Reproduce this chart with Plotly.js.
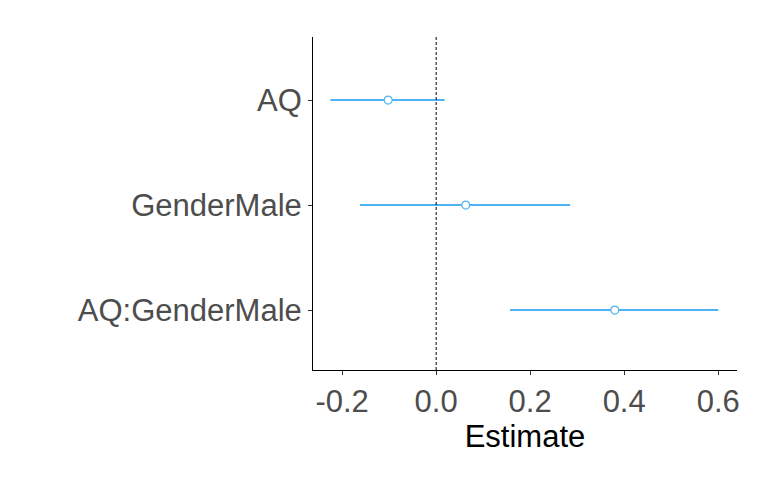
<!DOCTYPE html>
<html>
<head>
<script src="https://cdn.plot.ly/plotly-3.0.1.min.js"></script>
</head>
<body style="margin:0">
<div id="chart" style="width:776px;height:484px"></div>
<script>
var terms = ["AQ", "GenderMale", "AQ:GenderMale"];
var termPos = [3, 2, 1];
var estimates = [-0.102, 0.063, 0.380];
var ciLow = [-0.225, -0.162, 0.157];
var ciHigh = [0.018, 0.285, 0.600];

var traces = [];
for (var i = 0; i < terms.length; i++) {
  traces.push({
    x: [ciLow[i], ciHigh[i]],
    y: [termPos[i], termPos[i]],
    mode: "lines",
    type: "scatter",
    line: { color: "#4db3f5", width: 2 },
    hoverinfo: "skip"
  });
}
traces.push({
  x: estimates,
  y: termPos,
  mode: "markers",
  type: "scatter",
  marker: { color: "white", size: 8, line: { color: "#4db3f5", width: 1.2 } }
});

var layout = {
  showlegend: false,
  paper_bgcolor: "white",
  plot_bgcolor: "white",
  margin: { l: 313, r: 39, t: 37, b: 114 },
  font: { family: "Liberation Sans, Arial, sans-serif" },
  xaxis: {
    range: [-0.262, 0.64],
    tickvals: [-0.2, 0, 0.2, 0.4, 0.6],
    ticktext: ["-0.2", "0.0", "0.2", "0.4", "0.6"],
    showgrid: false,
    zeroline: false,
    showline: true,
    linecolor: "black",
    linewidth: 1,
    ticks: "outside",
    ticklen: 4,
    tickcolor: "#333",
    tickfont: { size: 31, color: "#4d4d4d" },
    title: { text: "Estimate", font: { size: 31, color: "black" }, standoff: 4 }
  },
  yaxis: {
    range: [0.43, 3.6],
    tickvals: termPos,
    ticktext: terms,
    showgrid: false,
    zeroline: false,
    showline: true,
    linecolor: "black",
    linewidth: 1,
    ticks: "outside",
    ticklen: 4,
    tickcolor: "#333",
    tickfont: { size: 31, color: "#4d4d4d" }
  },
  shapes: [{
    type: "line", xref: "x", yref: "paper", x0: 0, x1: 0, y0: 0, y1: 1,
    line: { color: "black", width: 1, dash: "3px,2px" }
  }]
};

Plotly.newPlot("chart", traces, layout, { displayModeBar: false });
</script>
</body>
</html>
